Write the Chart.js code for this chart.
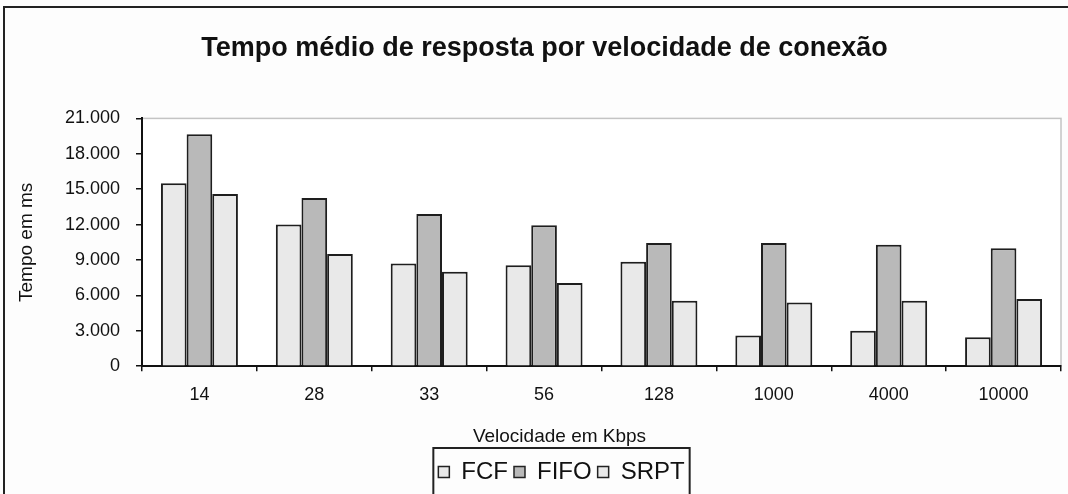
<!DOCTYPE html>
<html>
<head>
<meta charset="utf-8">
<script src="https://cdn.jsdelivr.net/npm/chart.js@4"></script>
<style>
  html, body { margin: 0; padding: 0; background: #fff; }
  #wrap { width: 1068px; height: 494px; }
</style>
</head>
<body>
<div id="wrap"><canvas id="chart" width="1068" height="494"></canvas></div>
<script>
const categories = ["14", "28", "33", "56", "128", "1000", "4000", "10000"];
const fcf  = [15500, 12000, 8700, 8550, 8850, 2600, 3000, 2450];
const fifo = [19650, 14250, 12900, 11950, 10450, 10450, 10300, 10000];
const srpt = [14600, 9500, 8000, 7050, 5550, 5400, 5550, 5700];
const yTickLabels = ["0", "3.000", "6.000", "9.000", "12.000", "15.000", "18.000", "21.000"];

const fontFamily = "'Liberation Sans', Arial, sans-serif";
const xTitle = "Velocidade em Kbps";

function shiftBox(box, dx) {
  if (!box) return;
  box.left += dx;
  box.right += dx;
}

// moldura externa, borda da área de plotagem, caixa da legenda
const framePlugin = {
  id: "frame",
  afterLayout(chart) {
    // no original, título, eixo X e legenda não ficam no mesmo centro
    shiftBox(chart.titleBlock, 14);
    shiftBox(chart.legend, 31);
    shiftBox(chart.boxes.find(b => b.options && b.options.text === xTitle), 29);
  },
  beforeDraw(chart) {
    const ctx = chart.ctx;
    ctx.save();
    ctx.fillStyle = "#fdfdfd";
    ctx.fillRect(0, 0, chart.width, chart.height);
    ctx.strokeStyle = "#222";
    ctx.lineWidth = 2;
    ctx.strokeRect(4, 7, chart.width + 10, chart.height + 10);
    const a = chart.chartArea;
    ctx.fillStyle = "#fff";
    ctx.fillRect(a.left, a.top, a.right - a.left, a.bottom - a.top);
    ctx.strokeStyle = "#c4c4c4";
    ctx.lineWidth = 1.5;
    ctx.strokeRect(a.left, a.top, a.right - a.left, a.bottom - a.top);
    ctx.restore();
  },
  afterDraw(chart) {
    const boxes = chart.legend.legendHitBoxes;
    if (!boxes || !boxes.length) return;
    const first = boxes[0], last = boxes[boxes.length - 1];
    const ctx = chart.ctx;
    ctx.save();
    ctx.strokeStyle = "#222";
    ctx.lineWidth = 2;
    const x0 = first.left - 5, x1 = last.left + last.width + 5;
    const y0 = first.top - 12;
    ctx.strokeRect(x0, y0, x1 - x0, 80);
    ctx.restore();
  }
};

const ctx = document.getElementById("chart").getContext("2d");
new Chart(ctx, {
  type: "bar",
  data: {
    labels: categories,
    datasets: [
      { label: "FCF", data: fcf, backgroundColor: "#e9e9e9" },
      { label: "FIFO", data: fifo, backgroundColor: "#b9b9b9" },
      { label: "SRPT", data: srpt, backgroundColor: "#e9e9e9" }
    ]
  },
  options: {
    responsive: false,
    animation: false,
    layout: { padding: { left: 0, right: 7, top: 0, bottom: 0 } },
    datasets: {
      bar: {
        borderColor: "#1e1e1e",
        borderWidth: 2,
        categoryPercentage: 0.67,
        barPercentage: 1.0
      }
    },
    plugins: {
      title: {
        display: true,
        text: "Tempo médio de resposta por velocidade de conexão",
        color: "#111",
        font: { family: fontFamily, size: 27, weight: "bold" },
        padding: { top: 32, bottom: 54 }
      },
      subtitle: {
        display: true,
        position: "bottom",
        weight: 500,
        text: xTitle,
        color: "#111",
        font: { family: fontFamily, size: 19, weight: "normal" },
        padding: { top: 5, bottom: 6 }
      },
      legend: {
        position: "bottom",
        labels: {
          color: "#111",
          font: { family: fontFamily, size: 24 },
          boxWidth: 11,
          boxHeight: 11,
          padding: 6,
          generateLabels(chart) {
            return chart.data.datasets.map((ds, i) => ({
              text: ds.label,
              fillStyle: ds.backgroundColor,
              strokeStyle: "#222",
              lineWidth: 1.5,
              datasetIndex: i,
              fontColor: "#111"
            }));
          }
        }
      },
      tooltip: { enabled: false }
    },
    scales: {
      x: {
        grid: {
          display: true,
          drawOnChartArea: false,
          drawTicks: true,
          tickLength: 5,
          color: "#111",
          lineWidth: 1.5,
          offset: true
        },
        border: { display: true, color: "#111", width: 2 },
        ticks: {
          color: "#111",
          font: { family: fontFamily, size: 18 },
          padding: 13,
          maxRotation: 0
        },
        afterFit(s) { s.height = 54; }
      },
      y: {
        min: 0,
        max: 21000,
        grid: {
          display: true,
          drawOnChartArea: false,
          drawTicks: true,
          tickLength: 6,
          color: "#111",
          lineWidth: 1.5
        },
        border: { display: true, color: "#111", width: 2 },
        ticks: {
          stepSize: 3000,
          color: "#111",
          font: { family: fontFamily, size: 18 },
          padding: 16,
          callback: (v, i) => yTickLabels[i]
        },
        title: {
          display: true,
          text: "Tempo em ms",
          color: "#111",
          font: { family: fontFamily, size: 19 },
          padding: { top: 15, bottom: 4 }
        },
        afterFit(s) {
          s.width = 142;
          s.paddingTop = 0;
          s.paddingBottom = 0;
        }
      }
    }
  },
  plugins: [framePlugin]
});
</script>
</body>
</html>
